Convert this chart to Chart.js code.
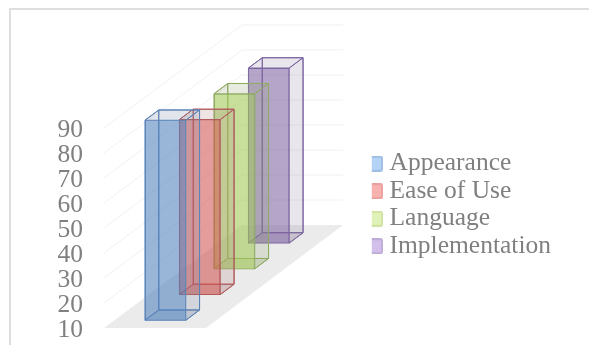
<!DOCTYPE html>
<html>
<head>
<meta charset="utf-8">
<title>Ratings</title>
<script src="https://cdn.jsdelivr.net/npm/chart.js@4"></script>
<style>
  html, body { margin: 0; background: #fff; overflow: hidden; }
  #frame { position: absolute; left: 9px; top: 8px; right: 0; bottom: 0; border-top: 2px solid #dedede; border-left: 2px solid #dedede; }
  #chartBox { position: absolute; left: 0; top: 0; width: 589px; height: 345px; }
</style>
</head>
<body>
<div id="frame"></div>
<div id="chartBox"><canvas id="ratingsChart" width="589" height="345"></canvas></div>
<script>
const categories = [''];
const seriesNames = ['Appearance', 'Ease of Use', 'Language', 'Implementation'];
const seriesValues = [90, 80, 80, 80];
const AXIS_MIN = 10;
const AXIS_MAX = 90;
const frontColors = ['rgba(79,129,189,0.58)', 'rgba(209,80,77,0.56)', 'rgba(160,200,85,0.58)', 'rgba(128,100,162,0.58)'];
const edgeColors = ['#5b84b8', '#b35a5c', '#8fab62', '#7d67a0'];
const sideColors = ['rgba(110,130,160,0.2)', 'rgba(170,120,120,0.2)', 'rgba(140,160,100,0.2)', 'rgba(130,110,150,0.18)'];
const swatchColors = ['#b4d3f5', '#f7b2b0', '#e0f2b8', '#d3c0ea'];
const swatchEdges = ['#9dbde3', '#e9a09f', '#cfe2a2', '#bfabd8'];

const LABEL_FONT = { family: '"Liberation Serif", serif', size: 25.5 };
const TEXT_COLOR = '#808080';

// the floor runs back this far from the front edge of the plot
const DEPTH_X = 138;
const DEPTH_Y = 103;
const SLOT = 0.25;          // share of the depth given to each series
const BOX_DEPTH = 0.1;      // share of the depth a column occupies
const FLOOR_RIGHT = 206;
const PAD_RIGHT = 28;

function slotOffset(i) {
  const d = SLOT * i + (SLOT - BOX_DEPTH) / 2;
  return { x: d * DEPTH_X, y: d * DEPTH_Y };
}

function poly(ctx, pts, fill, stroke) {
  ctx.beginPath();
  pts.forEach((p, i) => i ? ctx.lineTo(p[0], p[1]) : ctx.moveTo(p[0], p[1]));
  ctx.closePath();
  if (fill) { ctx.fillStyle = fill; ctx.fill(); }
  if (stroke) { ctx.strokeStyle = stroke; ctx.lineWidth = 1; ctx.stroke(); }
}

function swatch(fill, edge) {
  const c = document.createElement('canvas');
  c.width = 16;
  c.height = 16;
  const g = c.getContext('2d');
  g.fillStyle = fill;
  g.strokeStyle = edge;
  g.lineWidth = 2;
  g.beginPath();
  g.roundRect(1, 1, 14, 14, 2);
  g.fill();
  g.stroke();
  return c;
}

const boxes3d = {
  id: 'boxes3d',
  // push each series back along the floor
  afterDatasetsUpdate(chart) {
    chart.data.datasets.forEach((ds, i) => {
      const off = slotOffset(i);
      chart.getDatasetMeta(i).data.forEach(bar => {
        bar.x += off.x;
        bar.y -= off.y;
        bar.base -= off.y;
      });
    });
  },
  // floor and the walls' gridlines
  beforeDatasetsDraw(chart) {
    const { ctx, chartArea: area, scales: { y } } = chart;
    ctx.save();
    poly(ctx, [
      [area.left, area.bottom], [area.right, area.bottom],
      [area.right + DEPTH_X - 1, area.bottom - DEPTH_Y], [area.left + DEPTH_X, area.bottom - DEPTH_Y]
    ], '#ebebeb');
    ctx.strokeStyle = '#f1f1f1';
    ctx.lineWidth = 1;
    y.ticks.forEach(t => {
      if (t.value === y.min) return;
      const py = y.getPixelForValue(t.value);
      ctx.beginPath();
      ctx.moveTo(area.left, py);
      ctx.lineTo(area.left + DEPTH_X, py - DEPTH_Y);
      ctx.lineTo(area.right + DEPTH_X - 1, py - DEPTH_Y);
      ctx.stroke();
    });
    ctx.restore();
  },
  // hidden faces go behind the front one the library draws
  beforeDatasetDraw(chart, args) {
    const i = args.index;
    const b = args.meta.data[0];
    const { ctx } = chart;
    const l = b.x - b.width / 2, r = b.x + b.width / 2;
    const dx = BOX_DEPTH * DEPTH_X, dy = BOX_DEPTH * DEPTH_Y;
    ctx.save();
    poly(ctx, [[l + dx, b.y - dy], [r + dx, b.y - dy], [r + dx, b.base - dy], [l + dx, b.base - dy]], null, edgeColors[i]);
    poly(ctx, [[l, b.y], [l + dx, b.y - dy], [l + dx, b.base - dy], [l, b.base]], null, edgeColors[i]);
    poly(ctx, [[l, b.base], [r, b.base], [r + dx, b.base - dy], [l + dx, b.base - dy]], sideColors[i], edgeColors[i]);
    poly(ctx, [[r, b.y], [r + dx, b.y - dy], [r + dx, b.base - dy], [r, b.base]], sideColors[i], edgeColors[i]);
    ctx.restore();
  },
  afterDatasetDraw(chart, args) {
    const i = args.index;
    const b = args.meta.data[0];
    const { ctx } = chart;
    const l = b.x - b.width / 2, r = b.x + b.width / 2;
    const dx = BOX_DEPTH * DEPTH_X, dy = BOX_DEPTH * DEPTH_Y;
    ctx.save();
    poly(ctx, [[l, b.y], [r, b.y], [r + dx, b.y - dy], [l + dx, b.y - dy]], sideColors[i], edgeColors[i]);
    ctx.restore();
  }
};

new Chart(document.getElementById('ratingsChart'), {
  type: 'bar',
  plugins: [boxes3d],
  data: {
    labels: categories,
    datasets: seriesNames.map((name, i) => ({
      label: name,
      data: [seriesValues[i]],
      base: AXIS_MIN,
      backgroundColor: frontColors[i],
      borderColor: edgeColors[i],
      borderWidth: 1,
      clip: false
    }))
  },
  options: {
    responsive: false,
    animation: false,
    barPercentage: 0.4,
    categoryPercentage: 1,
    layout: { padding: { left: 57, right: PAD_RIGHT, top: 82, bottom: 17 } },
    scales: {
      x: { stacked: true, display: false },
      y: {
        min: AXIS_MIN,
        max: AXIS_MAX,
        grid: { display: false },
        border: { display: false },
        ticks: { stepSize: 10, padding: 13, labelOffset: 2, autoSkip: false, color: TEXT_COLOR, font: LABEL_FONT },
        afterFit: s => { s.width = 47; s.paddingTop = 0; s.paddingBottom = 0; }
      },
      // room above the plot and for the floor running back to its right
      headroom: {
        type: 'category',
        position: 'top',
        grid: { display: false },
        border: { display: false },
        ticks: { display: false },
        afterFit: s => { s.height = 46; }
      },
      depthRoom: {
        type: 'linear',
        position: 'right',
        grid: { display: false },
        border: { display: false },
        ticks: { display: false },
        afterFit: s => { s.width = s.chart.width - PAD_RIGHT - s.chart.legend.width - FLOOR_RIGHT; }
      }
    },
    plugins: {
      tooltip: { enabled: false },
      legend: {
        position: 'right',
        maxWidth: 220,
        labels: {
          boxWidth: 3,
          padding: 2,
          usePointStyle: true,
          color: TEXT_COLOR,
          font: LABEL_FONT,
          generateLabels: chart => chart.data.datasets.map((ds, i) => ({
            text: ds.label,
            datasetIndex: i,
            pointStyle: swatch(swatchColors[i], swatchEdges[i]),
            fontColor: TEXT_COLOR,
            lineWidth: 0
          }))
        }
      }
    }
  }
});
</script>
</body>
</html>
